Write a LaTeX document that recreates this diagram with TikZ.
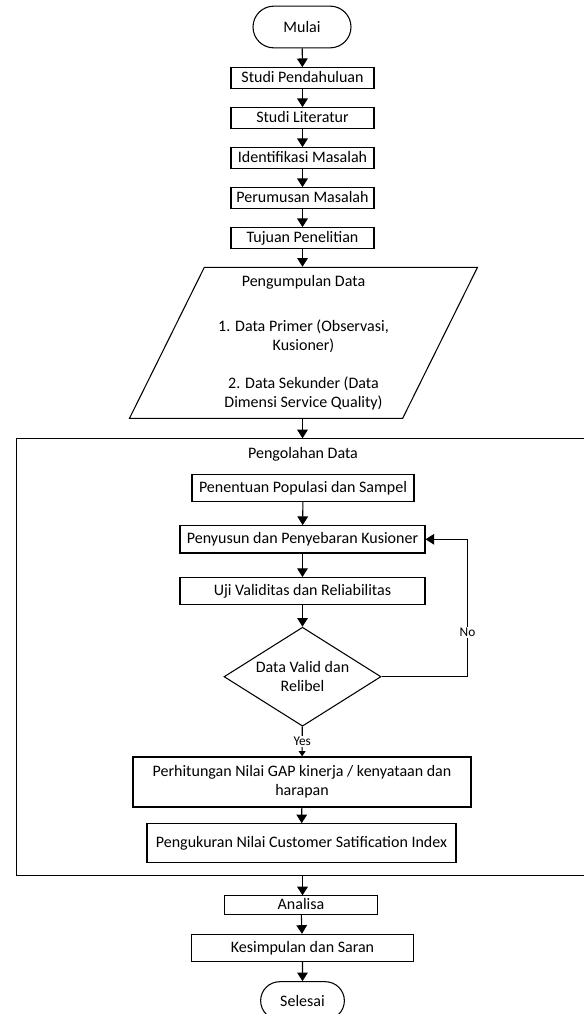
\documentclass[tikz,border=0pt]{standalone}
\usepackage{fontspec}
\setmainfont{Carlito}
\usepackage{tikz}
\usetikzlibrary{positioning,shapes.geometric,shapes.misc,arrows.meta}
\newcommand{\nfont}{\fontsize{12}{14.5}\selectfont}
\tikzset{
  basic/.style  = {draw, line width=0.8pt, font=\nfont, inner sep=1pt},
  term/.style   = {basic, rounded rectangle, minimum height=31.3pt},
  proc/.style   = {basic, rectangle, text height=9pt, text depth=2.5pt},
  top/.style    = {proc, minimum width=107.25pt, minimum height=15.5pt},
  multi/.style  = {basic, rectangle, align=center},
  io/.style     = {basic, trapezium, trapezium left angle=61,
                   trapezium right angle=119, trapezium stretches body,
                   align=center, inner sep=0pt},
  decide/.style = {basic, diamond, aspect=1.6, inner sep=0pt, align=center},
  plain/.style  = {font=\nfont},
  answer/.style = {font=\fontsize{10}{12}\selectfont, fill=white, inner sep=1pt},
  post/.style   = {-{Triangle[length=6.5pt,width=8pt]}, line width=0.8pt},
  yes/.style    = {-{Triangle[length=4pt,width=5pt]}, line width=0.8pt},
  outer/.style  = {line width=0.9pt}
}

\begin{document}
\begin{tikzpicture}[x=0.75pt,y=-0.75pt]
  \useasboundingbox (0,0) rectangle (584,1014);
  \clip (0,0) rectangle (584,1014);

  \node[term, minimum width=75.5pt] (mulai) at (302,27) {Mulai};
  \node[top] (pend) at (302.5,78) {Studi Pendahuluan};
  \node[top] (lit) at (302.5,118) {Studi Literatur};
  \node[top] (ident) at (302.5,158) {Identifikasi Masalah};
  \node[top] (rumus) at (302.5,198) {Perumusan Masalah};
  \node[top] (tujuan) at (302.5,238) {Tujuan Penelitian};
  \node[io, minimum width=261pt, minimum height=113.25pt] (kumpul) at (303.5,342.8)
    {Pengumpulan Data\\[19pt]1. Data Primer (Observasi,\\Kusioner)\\[14pt]
     2. Data Sekunder (Data\\Dimensi Service Quality)};

  \coordinate (ftop) at (302.5,438.3);
  \coordinate (fbot) at (302.5,875.5);
  \draw[outer] (584,438.3) -| (16.5,875.5) -- (584,875.5);
  \node[plain] (olah) at (303,454) {Pengolahan Data};

  \node[proc, minimum width=166.5pt, minimum height=20.6pt] (tentu) at (303,487.8) {Penentuan Populasi dan Sampel};
  \node[proc, minimum width=183.75pt, minimum height=20.5pt] (susun) at (302.5,539.3) {Penyusun dan Penyebaran Kusioner};
  \node[proc, minimum width=183.75pt, minimum height=20.5pt] (uji) at (302.5,591.2) {Uji Validitas dan Reliabilitas};
  \node[decide, minimum width=117.75pt, minimum height=74.25pt] (valid) at (302.5,676.7) {Data Valid dan\\Relibel};
  \node[multi, minimum width=253.5pt, minimum height=37.5pt] (gap) at (302,782) {Perhitungan Nilai GAP kinerja / kenyataan dan\\harapan};
  \node[proc, minimum width=231.75pt, minimum height=28.9pt] (csi) at (301.5,843) {Pengukuran Nilai Customer Satification Index};
  \coordinate (back) at (467.5,539.3);

  \node[proc, minimum width=115pt, minimum height=13.7pt] (analisa) at (301,905) {Analisa};
  \node[proc, minimum width=166pt, minimum height=20.5pt] (simpul) at (302.5,948) {Kesimpulan dan Saran};
  \node[term, minimum width=64.8pt, minimum height=28.5pt] (selesai) at (302.5,1000.7) {Selesai};

  \draw[post] (mulai) -- (pend);
  \draw[post] (pend) -- (lit);
  \draw[post] (lit) -- (ident);
  \draw[post] (ident) -- (rumus);
  \draw[post] (rumus) -- (tujuan);
  \draw[post] (tujuan) -- (tujuan |- kumpul.north);
  \draw[post] (kumpul.south -| ftop) -- (ftop);
  \draw[post] (tentu) -- (susun);
  \draw[post] (susun) -- (uji);
  \draw[post] (uji) -- (valid);
  \draw[post] (valid.east) -| node[answer, pos=0.66] {No} (back) -- (susun.east);
  \draw[yes] (valid) -- (gap) node[answer, pos=0.5] {Yes};
  \draw[post] (gap) -- (csi);
  \draw[post] (fbot) -- (fbot |- analisa.north);
  \draw[post] (analisa) -- (simpul);
  \draw[post] (simpul) -- (selesai);
\end{tikzpicture}
\end{document}
